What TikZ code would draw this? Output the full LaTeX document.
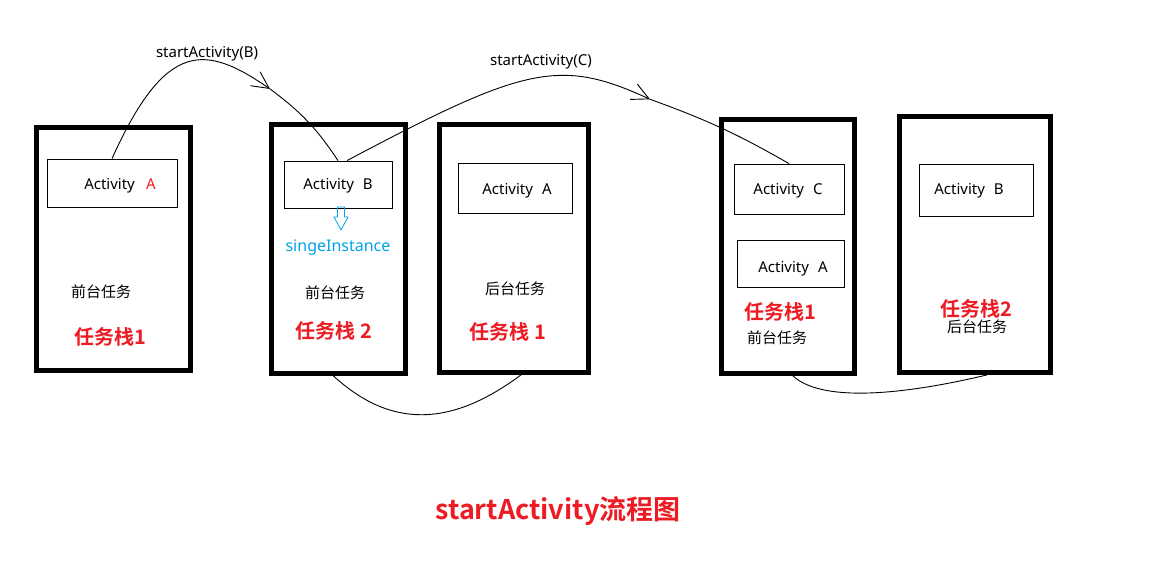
\documentclass[tikz,border=0pt]{standalone}
\usepackage{fontspec}
\setmainfont{Noto Sans}
\newfontfamily\cjk{Noto Sans CJK SC}[BoldFont={Noto Sans CJK SC Bold}]
\usetikzlibrary{arrows.meta}
\definecolor{pred}{RGB}{237,28,36}
\definecolor{pblue}{RGB}{0,162,232}
\begin{document}
\begin{tikzpicture}[x=1pt,y=-1pt,
  stack/.style={draw,line width=5pt,inner sep=0pt},
  act/.style={draw,line width=0.8pt,inner sep=0pt},
  atext/.style={font=\fontsize{15}{18}\selectfont},
  ctext/.style={font=\cjk\fontsize{15}{18}\selectfont},
  rtitle/.style={font=\cjk\bfseries\fontsize{20}{24}\selectfont,text=pred},
  flow/.style={line width=0.9pt},
  barb/.style={-{Straight Barb[length=17pt,width=17pt]}}]
\fill[white] (0,0) rectangle (1153,561);
\useasboundingbox (0,0) rectangle (1153,561);

% stacks
\node[stack,minimum width=153.5pt,minimum height=242pt] (s1) at (113.25,249) {};
\node[stack,minimum width=134pt,minimum height=248pt] (s2) at (338,249) {};
\node[stack,minimum width=149pt,minimum height=247pt] (s3) at (513.5,248.5) {};
\node[stack,minimum width=133pt,minimum height=254pt] (s4) at (788,246.5) {};
\node[stack,minimum width=150.5pt,minimum height=256pt] (s5) at (974.75,244.5) {};

% activity boxes
\node[act,minimum width=130pt,minimum height=48pt] (a1) at (112,183) {};
\node[act,minimum width=108pt,minimum height=47pt] (b2) at (338,184.5) {};
\node[act,minimum width=114pt,minimum height=50pt] (a3) at (515,188) {};
\node[act,minimum width=110pt,minimum height=50pt] (c4) at (789,189) {};
\node[act,minimum width=107pt,minimum height=47pt] (a4) at (790.5,263.5) {};
\node[act,minimum width=114pt,minimum height=52pt] (b5) at (976,190) {};

\node[atext] (ta1) at (120,186) {Activity\hspace{0.75em}\textcolor{pred}{A}};
\node[atext] (tb2) at (338,186) {Activity\hspace{0.6em}B};
\node[atext] (ta3) at (517,190.5) {Activity\hspace{0.6em}A};
\node[atext] (tc4) at (788,190.5) {Activity\hspace{0.6em}C};
\node[atext] (ta4) at (793,269) {Activity\hspace{0.6em}A};
\node[atext] (tb5) at (969,190.5) {Activity\hspace{0.6em}B};

% labels
\node[ctext] (q1) at (101,292) {前台任务};
\node[ctext] (q2) at (335,293) {前台任务};
\node[ctext] (h3) at (515,289) {后台任务};
\node[ctext] (q4) at (777,338) {前台任务};
\node[ctext] (h5) at (977,327) {后台任务};

\node[rtitle] (r1) at (110,337) {任务栈1};
\node[rtitle] (r2) at (334,331) {任务栈 2};
\node[rtitle] (r3) at (508,332) {任务栈 1};
\node[rtitle] (r4) at (780.5,312) {任务栈1};
\node[rtitle] (r5) at (976,309) {任务栈2};

\node[font=\fontsize{16}{19}\selectfont,text=pblue] (si) at (338,248) {singeInstance};
\draw[pblue,line width=0.8pt] (337.5,207) -- (344.5,207) -- (344.5,217) -- (348,217)
  -- (341,230) -- (334,217) -- (337.5,217) -- cycle;

\node[font=\fontsize{15}{18}\selectfont] (lb) at (207,54) {startActivity(B)};
\node[font=\fontsize{15}{18}\selectfont] (lc) at (541,62) {startActivity(C)};

\node[font=\cjk\bfseries\fontsize{27}{31}\selectfont,text=pred] (title) at (558,511)
  {startActivity流程图};

% connectors
\coordinate (t1) at (270,89);
\coordinate (t2) at (650,99.3);
\draw[flow,barb] (a1.north) .. controls (165.3,40.7) and (204.4,43.4) .. (t1);
\draw[flow] (t1) to[bend left=10] (b2.north);
\draw[flow,barb] ([xshift=9pt]b2.north) .. controls (523.7,66.8) and (559.3,57.3) .. (t2);
\draw[flow] (t2) to[bend left=5] (c4.north);
\draw[flow] ([xshift=-5pt]s2.south) .. controls (390,428) and (450,428) .. ([xshift=8pt]s3.south);
\draw[flow] ([xshift=5pt]s4.south) .. controls (825,405) and (915,392) .. ([xshift=12pt]s5.south);
\end{tikzpicture}
\end{document}
